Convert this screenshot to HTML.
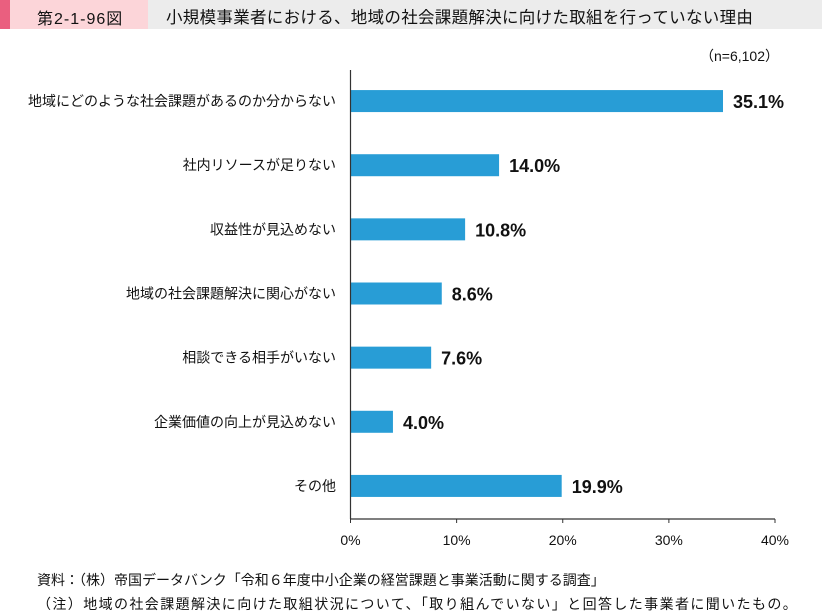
<!DOCTYPE html>
<html><head><meta charset="utf-8"><style>
body{margin:0;width:822px;height:613px;background:#fff;font-family:"Liberation Sans","Noto Sans CJK JP",sans-serif;overflow:hidden;position:relative}
.hdr{position:absolute;top:0;height:29px;}
.t{position:absolute;white-space:nowrap;color:#111}
</style></head><body>
<div class="hdr" style="left:0;width:10px;background:#ea5f7f"></div>
<div class="hdr" style="left:10px;width:138px;background:#fcd5d9"></div>
<div class="hdr" style="left:148px;width:674px;background:#ececec"></div>
<div class="t" style="left:37px;top:5px;font-size:16px;letter-spacing:1px">第2-1-96図</div>
<div class="t" style="left:166px;top:4px;font-size:16.5px;letter-spacing:0.3px">小規模事業者における、地域の社会課題解決に向けた取組を行っていない理由</div>
<div class="t" style="left:700px;top:46px;font-size:14px">（n=6,102）</div>
<svg id="c" width="822" height="613" style="position:absolute;left:0;top:0"></svg>
<div class="t" style="left:37px;top:570px;font-size:14px">資料：（株）帝国データバンク「令和６年度中小企業の経営課題と事業活動に関する調査」</div>
<div class="t" style="left:37px;top:594px;font-size:14px;letter-spacing:1.4px">（注）地域の社会課題解決に向けた取組状況について、「取り組んでいない」と回答した事業者に聞いたもの。</div>
<script>
const categories=["地域にどのような社会課題があるのか分からない","社内リソースが足りない","収益性が見込めない","地域の社会課題解決に関心がない","相談できる相手がいない","企業価値の向上が見込めない","その他"];
const values=[35.1,14.0,10.8,8.6,7.6,4.0,19.9];
const ticks=[0,10,20,30,40];
const NS="http://www.w3.org/2000/svg";
const svg=document.getElementById('c');
const x0=350.5,x1=775,yTop=70,yBot=519;
const xs=v=>x0+(v/40)*(x1-x0);
const band=(yBot-yTop)/categories.length;
const yc=i=>yTop+band*(i+0.5)-1;
function mk(tag,attrs,txt){const e=document.createElementNS(NS,tag);for(const k in attrs)e.setAttribute(k,attrs[k]);if(txt!==undefined)e.textContent=txt;svg.appendChild(e);return e;}
categories.forEach((c,i)=>{
 const r=mk('rect',{x:x0,y:yc(i)-11,width:xs(values[i])-x0,height:22,fill:'#289dd6'});
 
 
 const l=mk('text',{x:336,y:yc(i)+5,'text-anchor':'end','font-size':14,fill:'#111'},c);
 
 
 const v=mk('text',{x:xs(values[i])+10,y:yc(i)+7,'font-size':18,'font-weight':'bold',fill:'#111'},values[i].toFixed(1)+'%');
 
 
});
const ax=mk('line',{x1:x0,y1:yTop,x2:x0,y2:yBot,stroke:'#333','stroke-width':1.2});


const bx=mk('line',{x1:x0,y1:yBot,x2:x1,y2:yBot,stroke:'#333','stroke-width':1.2});


ticks.forEach(t=>{
 const tk=mk('line',{x1:xs(t),y1:yBot,x2:xs(t),y2:yBot+4,stroke:'#333'});
 
 
 const tl=mk('text',{x:xs(t),y:545,'text-anchor':'middle','font-size':14,fill:'#111'},t+'%');
 
 
});
</script>
</body></html>
